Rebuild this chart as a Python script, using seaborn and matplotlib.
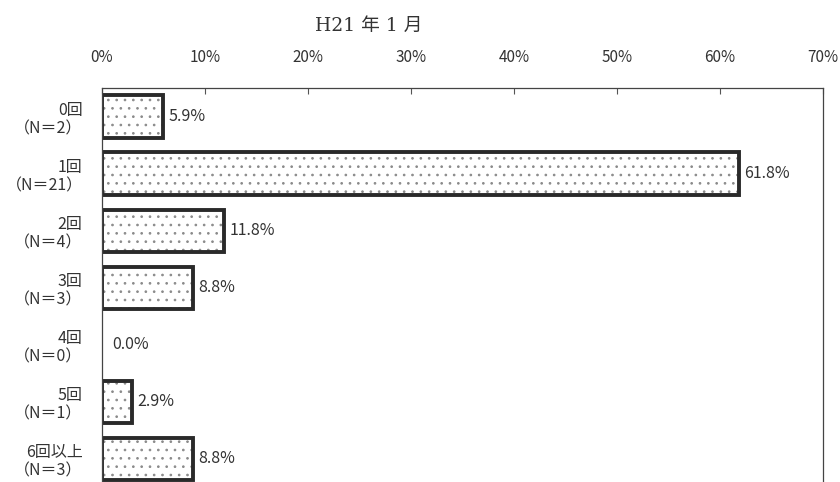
import matplotlib
matplotlib.use("Agg")
import matplotlib.pyplot as plt
import seaborn as sns
import pandas as pd

categories = ["0回\n（N＝2）", "1回\n（N＝21）", "2回\n（N＝4）", "3回\n（N＝3）",
              "4回\n（N＝0）", "5回\n（N＝1）", "6回以上\n（N＝3）"]
values = [5.9, 61.8, 11.8, 8.8, 0.0, 2.9, 8.8]
x_ticks = [0, 10, 20, 30, 40, 50, 60, 70]
title = "H21 年 1 月"

sns.set_theme(style="white")
plt.rcParams['font.family'] = ['Noto Sans CJK JP', 'DejaVu Sans']
plt.rcParams['hatch.linewidth'] = 0.7

df = pd.DataFrame({"cat": categories, "val": values})

fig = plt.figure(figsize=(8.4, 4.82), dpi=100)
ax = fig.add_axes([102/840, -5.5/482, (823-102)/840, (482+5.5-88)/482])

# hatched fill layer
sns.barplot(data=df, x="val", y="cat", orient="h", ax=ax, color="white",
            edgecolor="#8a8a8a", linewidth=0, width=0.74, saturation=1)
for p in ax.patches:
    p.set_facecolor("white")
    p.set_hatch("..")
n_fill = len(ax.patches)
# outline layer
sns.barplot(data=df, x="val", y="cat", orient="h", ax=ax, fill=False,
            edgecolor="#2a2a2a", linewidth=2.8, width=0.74)
for p, v in zip(ax.patches[n_fill:], values):
    if v <= 0:
        p.set_linewidth(0)

ax.set_xlim(0, 70)
ax.set_ylim(6.5, -0.5)
ax.set_xticks(x_ticks)
ax.set_xticklabels([f"{t}%" for t in x_ticks], fontsize=11, color="#333333")
ax.xaxis.tick_top()
ax.tick_params(axis="x", direction="in", length=4, width=0.8, color="#555555", pad=16, top=True, bottom=False)
ax.set_yticks(range(len(categories)))
ax.set_yticklabels(categories, fontsize=11.5, color="#333333", linespacing=1.15)
ax.tick_params(axis="y", length=0, pad=14)
ax.set_yticks([i + 0.5 for i in range(-1, len(categories) - 1)], minor=True)
ax.tick_params(axis="y", which="minor", direction="in", length=3, width=0.8, color="#777777")
ax.set_xlabel("")
ax.set_ylabel("")

for s in ["top", "left", "right"]:
    ax.spines[s].set_visible(True)
    ax.spines[s].set_color("#444444")
    ax.spines[s].set_linewidth(0.9)
ax.spines["bottom"].set_visible(False)

for i, v in enumerate(values):
    ax.text(v + 0.55 if v > 0 else 1.0, i, f"{v:.1f}%", va="center", ha="left",
            fontsize=11.5, color="#333333")

fig.text(369/840, 1 - 26/482, title, ha="center", va="center", fontsize=13.5,
         color="#333333", family=['DejaVu Serif', 'Noto Sans CJK JP'])

fig.savefig("out.png", dpi=100)
